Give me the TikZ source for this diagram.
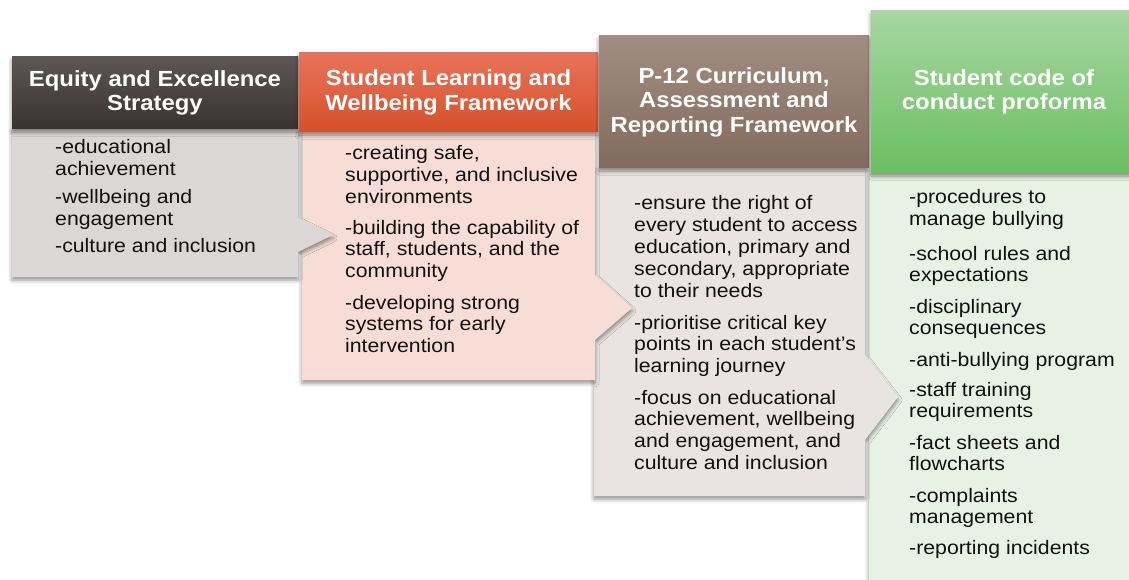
\documentclass[tikz,border=0pt]{standalone}
\usepackage{fontspec}
\newfontfamily\diafont{Liberation Sans}[FakeStretch=1.09]
\usetikzlibrary{shadows.blur}
\definecolor{hOneTop}{HTML}{5D5654}
\definecolor{hOneBot}{HTML}{3A3230}
\definecolor{bOne}{HTML}{DAD7D6}
\definecolor{hTwoTop}{HTML}{E8735A}
\definecolor{hTwoBot}{HTML}{D5502A}
\definecolor{bTwo}{HTML}{F8DDD6}
\definecolor{hThreeTop}{HTML}{A18D81}
\definecolor{hThreeBot}{HTML}{826B5D}
\definecolor{bThree}{HTML}{E9E4E2}
\definecolor{hFourTop}{HTML}{A7D7A0}
\definecolor{hFourBot}{HTML}{6ABE61}
\definecolor{bFour}{HTML}{E7F2E5}
\definecolor{txt}{HTML}{111111}
\tikzset{
  shd/.style={blur shadow={shadow xshift=0pt, shadow yshift=-3pt, shadow blur radius=4pt, shadow opacity=45}},
  hdr/.style={shd, draw=none, inner sep=0pt, align=center, text=white,
    font=\diafont\bfseries\fontsize{21.9}{24.5}\selectfont},
  bodybox/.style={shd, draw=none},
  item/.style={anchor=base west, inner sep=0pt, text=txt,
    font=\diafont\fontsize{19.5}{21.8}\selectfont},
}
\newcommand{\itm}[1]{\parbox[t]{250pt}{\raggedright #1}}
\begin{document}
\begin{tikzpicture}[x=1pt,y=-1pt]
\useasboundingbox (0,0) rectangle (1129,580);
% bodies (later ones first, so that arrows overlap the next body)
\path[bodybox, fill=bFour] (869,173) rectangle (1145,600);
\path[bodybox, fill=bThree] (594,168) -- (865,168) -- (865,355) -- (898,397) -- (865,440) -- (865,496) -- (594,496) -- cycle;
\path[bodybox, fill=bTwo] (302,132) -- (595,132) -- (595,275) -- (632,308) -- (595,340) -- (595,380) -- (302,380) -- cycle;
\path[bodybox, fill=bOne] (12,128) -- (298,128) -- (298,218) -- (333,235) -- (298,252) -- (298,277) -- (12,277) -- cycle;
% headers
\node[hdr, top color=hOneTop, bottom color=hOneBot, minimum width=286pt, minimum height=72pt] (h1) at (155,93) {Equity and Excellence\\Strategy};
\node[hdr, top color=hTwoTop, bottom color=hTwoBot, minimum width=299pt, minimum height=79pt] (h2) at (448.5,92.5) {Student Learning and\\Wellbeing Framework};
\node[hdr, top color=hThreeTop, bottom color=hThreeBot, minimum width=270pt, minimum height=132pt] (h3) at (734,102) {P-12 Curriculum,\\Assessment and\\Reporting Framework};
\node[hdr, top color=hFourTop, bottom color=hFourBot, minimum width=266pt, minimum height=162pt] (h4) at (1004,92) {Student code of\\conduct proforma};
% column 1 items
\node[item] (a1) at (55,154) {\itm{-educational\\achievement}};
\node[item] (a2) at (55,204) {\itm{-wellbeing and\\engagement}};
\node[item] (a3) at (55,252) {\itm{-culture and inclusion}};
% column 2 items
\node[item] (b1) at (345,160) {\itm{-creating safe,\\supportive, and inclusive\\environments}};
\node[item] (b2) at (345,234) {\itm{-building the capability of\\staff, students, and the\\community}};
\node[item] (b3) at (345,309) {\itm{-developing strong\\systems for early\\intervention}};
% column 3 items
\node[item] (c1) at (634,210) {\itm{-ensure the right of\\every student to access\\education, primary and\\secondary, appropriate\\to their needs}};
\node[item] (c2) at (634,329) {\itm{-prioritise critical key\\points in each student’s\\learning journey}};
\node[item] (c3) at (634,404) {\itm{-focus on educational\\achievement, wellbeing\\and engagement, and\\culture and inclusion}};
% column 4 items
\node[item] (d1) at (909,204) {\itm{-procedures to\\manage bullying}};
\node[item] (d2) at (909,260) {\itm{-school rules and\\expectations}};
\node[item] (d3) at (909,313) {\itm{-disciplinary\\consequences}};
\node[item] (d4) at (909,366) {\itm{-anti-bullying program}};
\node[item] (d5) at (909,396) {\itm{-staff training\\requirements}};
\node[item] (d6) at (909,449) {\itm{-fact sheets and\\flowcharts}};
\node[item] (d7) at (909,502) {\itm{-complaints\\management}};
\node[item] (d8) at (909,554) {\itm{-reporting incidents}};
\end{tikzpicture}
\end{document}
